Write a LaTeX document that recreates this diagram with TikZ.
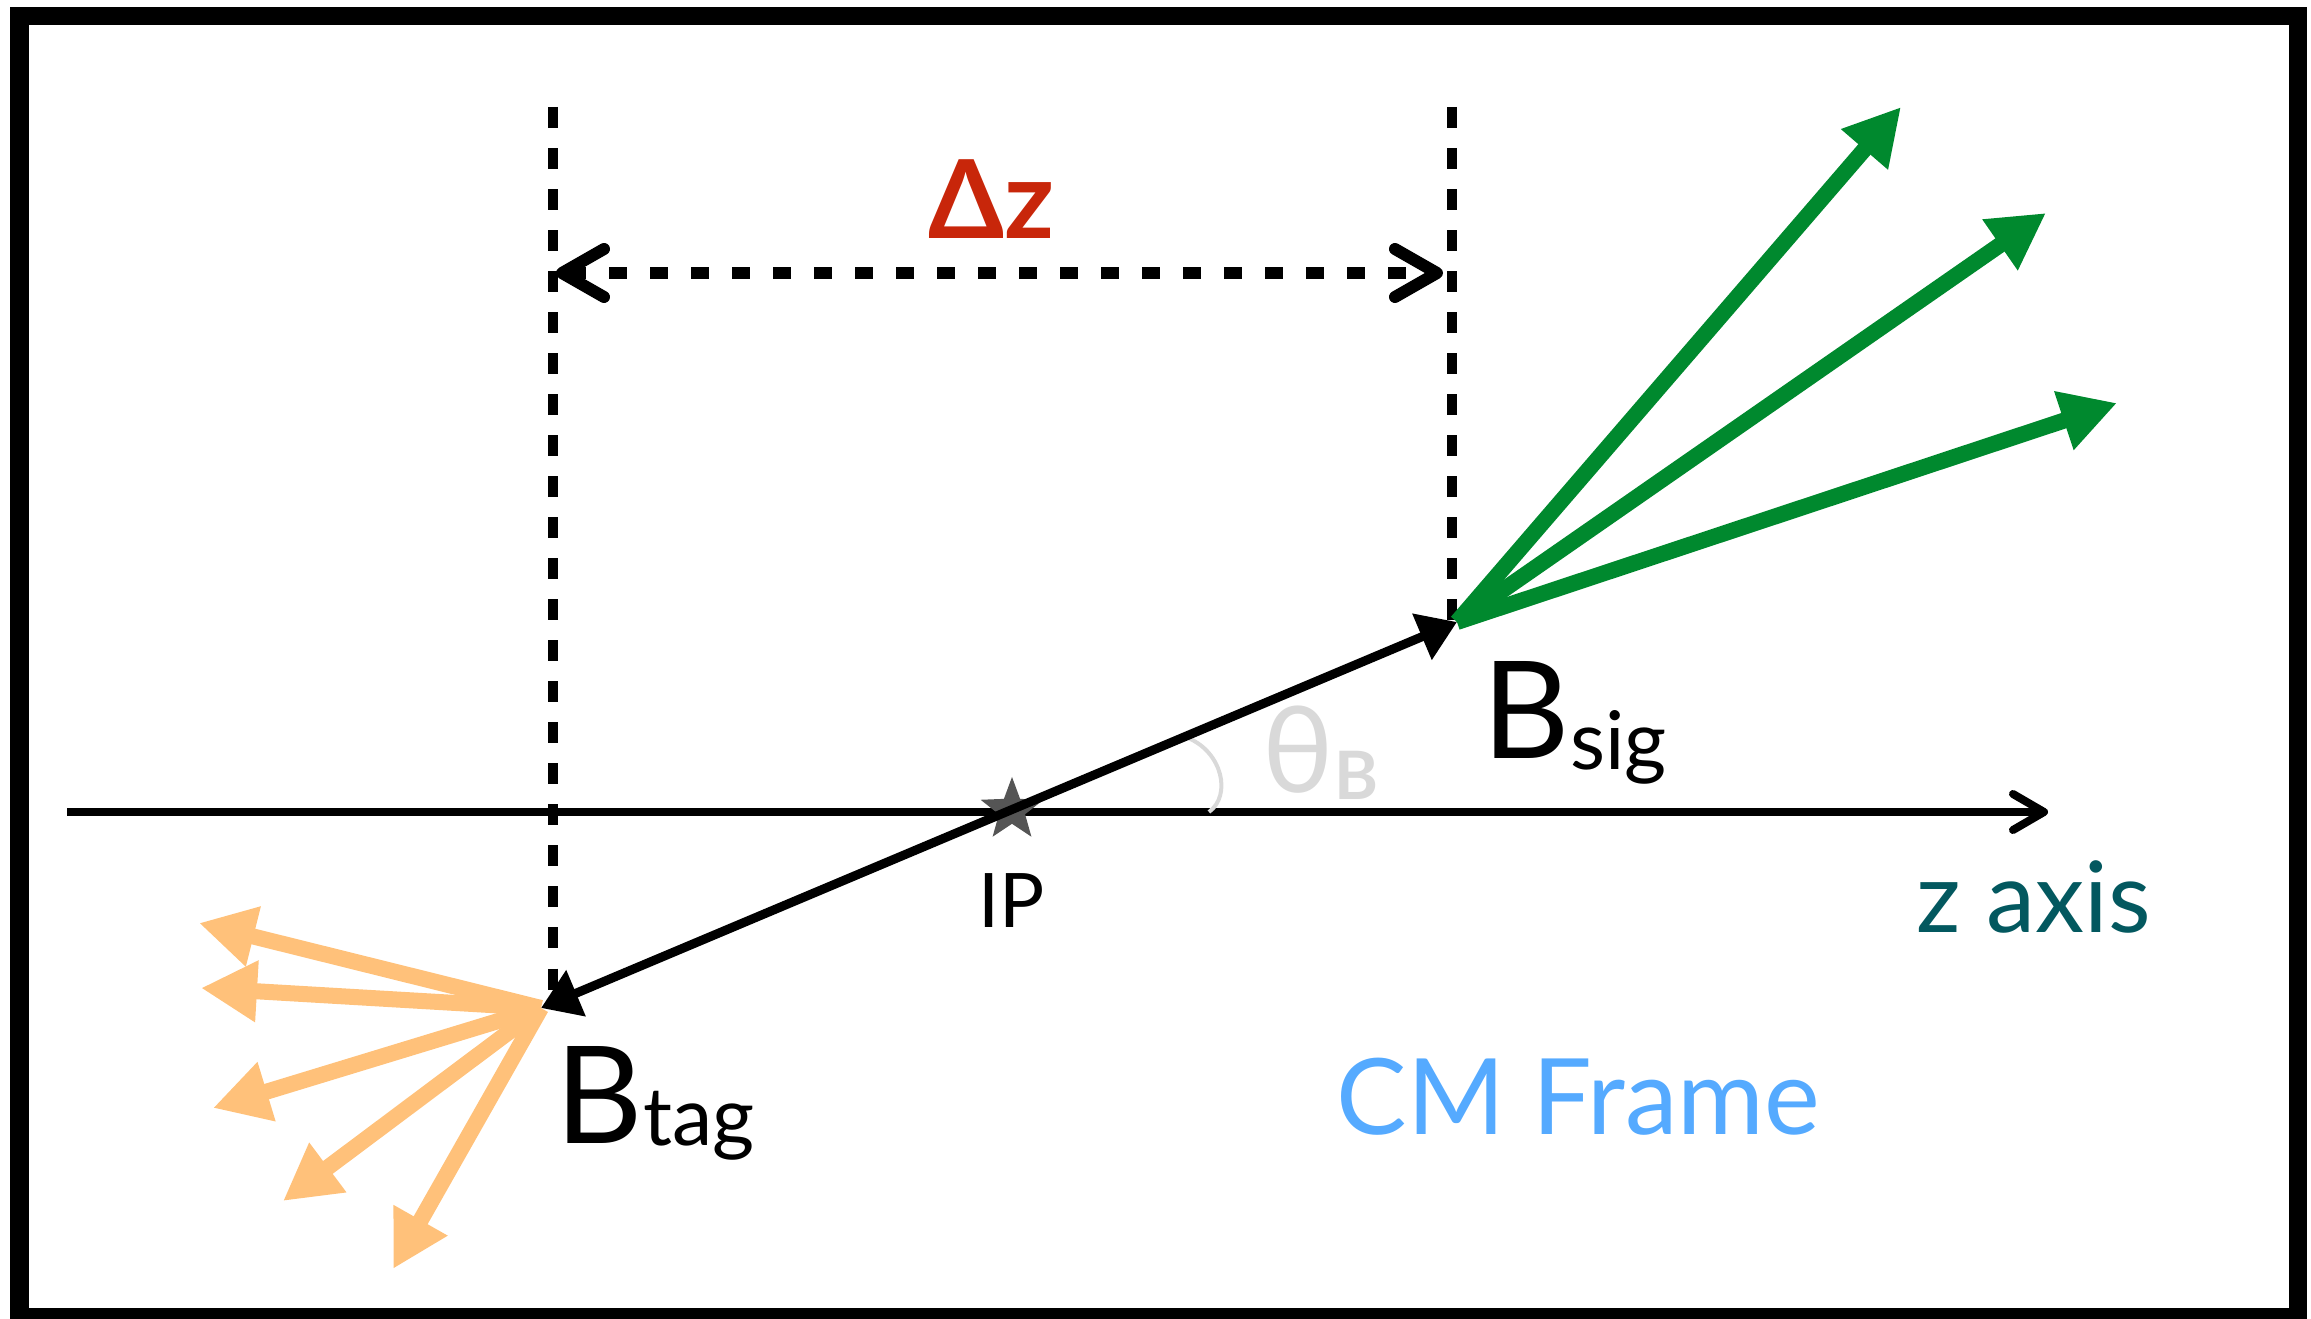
\documentclass[tikz,border=0pt]{standalone}
\usepackage{fontspec}
\setmainfont{Lato}
\definecolor{SigGreen}{RGB}{0,137,46}
\definecolor{TagOrange}{RGB}{255,193,122}
\definecolor{DeltaRed}{RGB}{200,38,10}
\definecolor{AxisTeal}{RGB}{3,88,95}
\definecolor{FrameBlue}{RGB}{85,170,255}
\definecolor{ThetaGray}{RGB}{217,217,217}
\definecolor{StarGray}{RGB}{85,85,85}
\usetikzlibrary{positioning, arrows.meta, shapes.geometric}

\newcommand{\bmeson}[2]{{\fontsize{38.5}{40}\selectfont B}\raisebox{#2}{\fontsize{23}{24}\selectfont #1}}

\tikzset{
  track/.style={line width=0.16cm, -{Triangle[length=0.56cm, width=0.58cm]}},
  vline/.style={line width=0.1cm, dash pattern=on 0.21cm off 0.2cm},
  lbl/.style={inner sep=0pt, anchor=base west},
}

\begin{document}
\begin{tikzpicture}[x=0.01cm, y=-0.01cm]
          \useasboundingbox (0,0) rectangle (2311,1319);
          \draw[line width=0.18cm] (19.5,16) rectangle (2298,1317);

          \coordinate (bsig) at (1457,622);
          \coordinate (btag) at (541,1008);
          \coordinate (zl) at (67,812);
          \coordinate (zr) at (2048,812);
          \coordinate (ltop) at (553,107);
          \coordinate (lbot) at (553,990);
          \coordinate (rtop) at (1452,107);
          \coordinate (rbot) at (1452,620);
          \coordinate (dzl) at (556,273);
          \coordinate (dzr) at (1443,273);
          \coordinate (g1) at (1901,107);
          \coordinate (g2) at (2046,213);
          \coordinate (g3) at (2117,403);
          \coordinate (t1) at (199,923);
          \coordinate (t2) at (201,988);
          \coordinate (t3) at (213,1108);
          \coordinate (t4) at (283,1201);
          \coordinate (t5) at (393,1269);
          \coordinate (tha) at (1188,738);
          \coordinate (thb) at (1209,812);

          \draw[line width=0.08cm, -{Straight Barb[round, length=0.31cm, width=0.36cm]}] (zl) -- (zr);
          \draw[vline] (ltop) -- (lbot);
          \draw[vline] (rtop) -- (rbot);
          \draw[line width=0.12cm, dash pattern=on 0.18cm off 0.23cm, {Straight Barb[round, length=0.42cm, width=0.48cm]}-{Straight Barb[round, length=0.42cm, width=0.48cm]}] (dzl) -- (dzr);
          \node[lbl, text=DeltaRed, font=\bfseries\fontsize{31}{34}\selectfont] (dz) at (928,239) {Δz};

          \node[star, star points=5, star point ratio=2.4, fill=StarGray, minimum size=0.66cm, inner sep=0pt] (ip) at (1012,810) {};
          \node[below=1.17cm of ip.center, anchor=base, inner sep=0pt, font=\fontsize{21.4}{24}\selectfont] (iplabel) {IP};

          \draw[ThetaGray, line width=0.04cm] (tha) .. controls (1222,752) and (1232,795) .. (thb);
          \node[lbl, text=ThetaGray] (theta) at (1262,793) {{\fontsize{34}{36}\selectfont θ}\raisebox{-0.07cm}{\fontsize{19}{20}\selectfont\bfseries B}};

          \draw[line width=0.09cm, {Triangle[length=0.38cm, width=0.48cm]}-{Triangle[length=0.38cm, width=0.48cm]}] (btag) -- (bsig);
          \foreach \k in {1,2,3}
            \draw[track, SigGreen] (bsig) -- (g\k);
          \foreach \k in {1,...,5}
            \draw[track, TagOrange] (btag) -- (t\k);

          \node[lbl] (sig) at (1482,759) {\bmeson{sig}{-0.1cm}};
          \node[lbl] (tag) at (555,1143) {\bmeson{tag}{-0.02cm}};
          \node[lbl, text=AxisTeal, font=\fontsize{28}{30}\selectfont] (zlabel) at (1916,933) {z axis};
          \node[lbl, text=FrameBlue, font=\fontsize{30}{33}\selectfont] (cm) at (1336,1135) {CM Frame};
        \end{tikzpicture}
\end{document}
